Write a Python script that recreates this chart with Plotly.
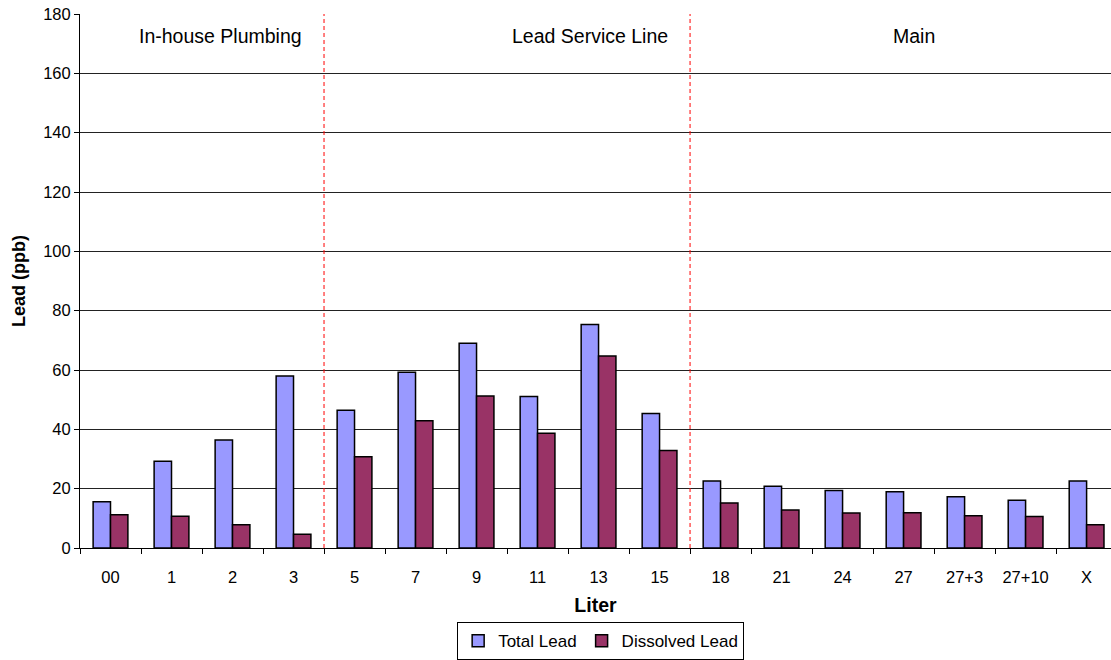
import plotly.graph_objects as go

# Sample volume labels (litres drawn from the tap)
liters = ["00", "1", "2", "3", "5", "7", "9", "11", "13", "15",
          "18", "21", "24", "27", "27+3", "27+10", "X"]

# Lead concentrations in ppb
total_lead = [15.6, 29.2, 36.4, 58.0, 46.4, 59.2, 69.0, 51.1, 75.3, 45.3,
              22.6, 20.8, 19.4, 19.0, 17.3, 16.1, 22.6]
dissolved_lead = [11.2, 10.7, 7.8, 4.6, 30.8, 42.9, 51.2, 38.7, 64.7, 32.9,
                  15.2, 12.8, 11.8, 11.9, 10.9, 10.6, 7.8]

# Plumbing sections: label, first category index, label position
sections = [("In-house Plumbing", 0, 1.8),
            ("Lead Service Line", 4, 7.86),
            ("Main", 10, 13.17)]

font = "Liberation Sans, Arial, sans-serif"

fig = go.Figure()
fig.add_trace(go.Bar(
    x=liters, y=total_lead, name="Total Lead",
    marker=dict(color="#9999FF", line=dict(color="#000000", width=1.5)),
))
fig.add_trace(go.Bar(
    x=liters, y=dissolved_lead, name="Dissolved Lead",
    marker=dict(color="#993366", line=dict(color="#000000", width=1.5)),
))

# Dashed separators between sections and section labels
for i, (label, start, label_x) in enumerate(sections):
    if i > 0:
        fig.add_shape(type="line", xref="x", yref="paper",
                      x0=start - 0.5, x1=start - 0.5, y0=0, y1=1,
                      line=dict(color="#FF0000", width=1, dash="4px,3px"))
    fig.add_annotation(x=label_x, y=172.6, xref="x", yref="y",
                       text=label, showarrow=False,
                       font=dict(family=font, size=19.5, color="#000000"))

fig.update_layout(
    width=1111, height=660,
    margin=dict(l=80, r=0, t=14, b=112, autoexpand=False),
    paper_bgcolor="white", plot_bgcolor="white",
    barmode="group", bargap=0.43, bargroupgap=0,
    font=dict(family=font, size=16.5, color="#000000"),
    showlegend=True,
    legend=dict(orientation="h", x=0.505, xanchor="center",
                y=-0.139, yanchor="top",
                bordercolor="#000000", borderwidth=1,
                font=dict(family=font, size=17), itemwidth=30,
                tracegroupgap=0, traceorder="normal"),
)

fig.update_xaxes(
    type="category", range=[-0.5, 16.4],
    showline=True, linecolor="#000000", linewidth=1,
    ticks="outside", ticklen=5, tickcolor="#000000", tickson="boundaries",
    ticklabelstandoff=14, tickfont=dict(size=16.5),
    showgrid=False,
    title=dict(text="<b>Liter</b>", font=dict(family=font, size=19.5), standoff=13),
)
fig.update_yaxes(
    range=[0, 180], dtick=20,
    showline=True, linecolor="#000000", linewidth=1,
    ticks="outside", ticklen=5, tickcolor="#000000",
    tickfont=dict(size=16.5),
    showgrid=True, gridcolor="#222222", gridwidth=1,
    zeroline=False,
    title=dict(text="<b>Lead (ppb)</b>", font=dict(family=font, size=18), standoff=12),
)

fig.write_html("out.html")
